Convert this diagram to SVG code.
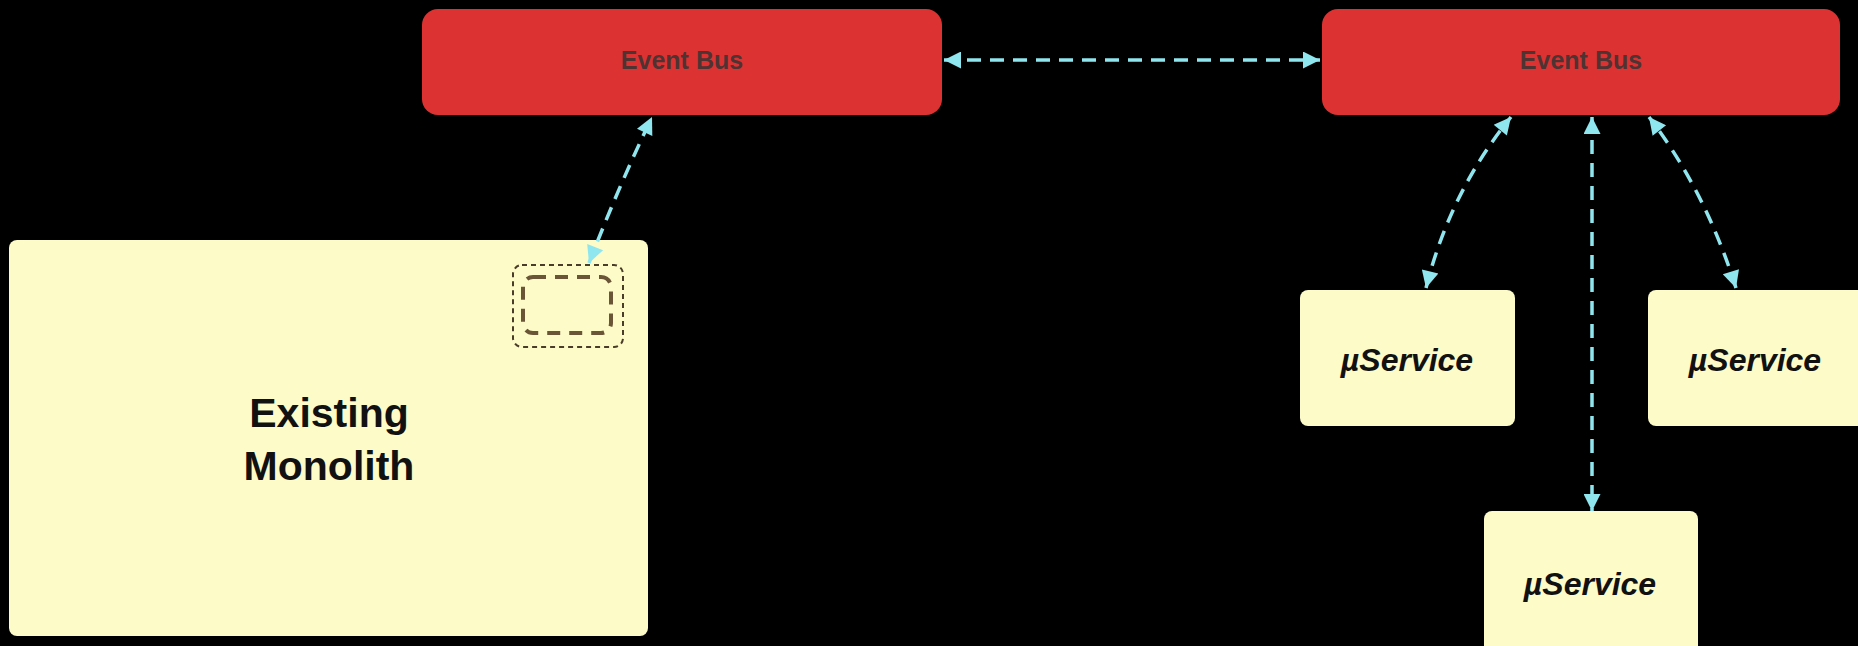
<svg xmlns="http://www.w3.org/2000/svg" width="1858" height="646" viewBox="0 0 1858 646">
<style>
.bus{fill:#dd3232}
.bustxt{font-family:"Liberation Sans",Arial,sans-serif;font-weight:bold;font-size:25px;fill:#4f3333;text-anchor:middle}
.card{fill:#fdfbc8}
.svc{font-family:"Liberation Sans",Arial,sans-serif;font-weight:bold;font-style:italic;font-size:32px;fill:#111;text-anchor:middle}
.mono{font-family:"Liberation Sans",Arial,sans-serif;font-weight:bold;font-size:41px;fill:#111;text-anchor:middle}
.conn{fill:none;stroke:#8fe6ef;stroke-width:3.5;stroke-dasharray:14 9;marker-start:url(#ah);marker-end:url(#ah)}
</style>
<defs>
<marker id="ah" viewBox="0 0 10 10" refX="10" refY="5" markerUnits="userSpaceOnUse" markerWidth="22" markerHeight="17" orient="auto-start-reverse">
<path d="M0,0 L10,5 L0,10 z" fill="#8fe6ef"/>
</marker>
</defs>
<rect x="0" y="0" width="1858" height="646" fill="#000"/>
<g id="bus-left">
<rect class="bus" x="422" y="9" width="520" height="106" rx="16"/>
<text class="bustxt" x="682" y="69">Event Bus</text>
</g>
<g id="bus-right">
<rect class="bus" x="1322" y="9" width="518" height="106" rx="16"/>
<text class="bustxt" x="1581" y="69">Event Bus</text>
</g>
<g id="monolith">
<rect class="card" x="9" y="240" width="639" height="396" rx="8"/>
<text class="mono" x="329" y="427">Existing</text>
<text class="mono" x="329" y="480">Monolith</text>
<rect x="513" y="265" width="110" height="82" rx="9" fill="none" stroke="#4a3c2a" stroke-width="2" stroke-dasharray="5 4"/>
<rect x="523" y="277" width="88" height="56" rx="10" fill="none" stroke="#6a5636" stroke-width="4" stroke-dasharray="13 9"/>
</g>
<g id="svc1">
<rect class="card" x="1300" y="290" width="215" height="136" rx="8"/>
<text class="svc" x="1407" y="371">µService</text>
</g>
<g id="svc2">
<rect class="card" x="1648" y="290" width="218" height="136" rx="8"/>
<text class="svc" x="1755" y="371">µService</text>
</g>
<g id="svc3">
<rect class="card" x="1484" y="511" width="214" height="145" rx="8"/>
<text class="svc" x="1590" y="595">µService</text>
</g>
<g id="connectors">
<path class="conn" d="M944,60 L1320,60"/>
<path class="conn" d="M589,263 Q618,188 652,117"/>
<path class="conn" d="M1426,288 Q1450,192 1511,117"/>
<path class="conn" d="M1592,117 L1592,511"/>
<path class="conn" d="M1736,288 Q1705,190 1649,117"/>
</g>
</svg>
